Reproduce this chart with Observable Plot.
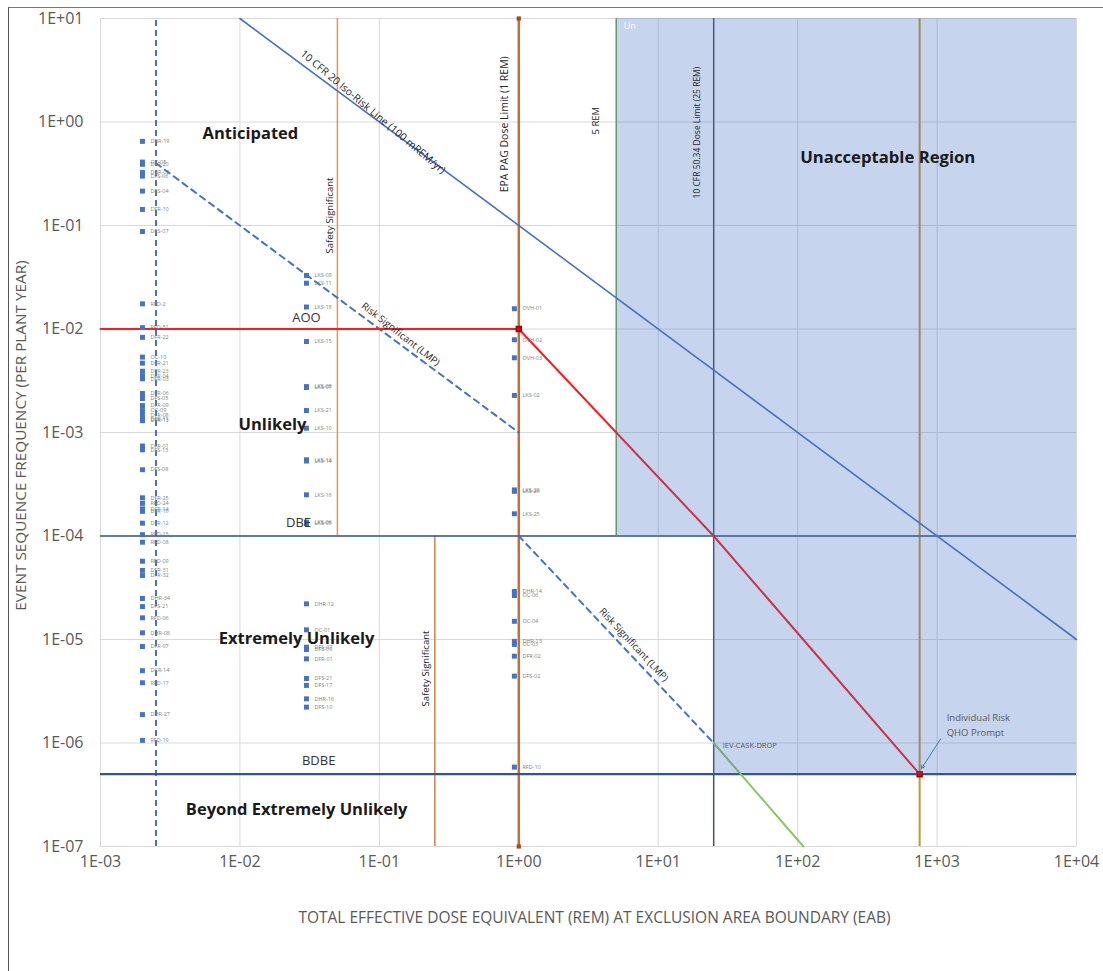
<!DOCTYPE html>
<html><head><meta charset="utf-8">
<script src="https://cdn.jsdelivr.net/npm/d3@7"></script>
<script src="https://cdn.jsdelivr.net/npm/@observablehq/plot@0.6"></script>
<style>
body{margin:0;background:#fff;}
#chart{position:absolute;left:0;top:0;}
#frame{position:absolute;left:8px;top:7px;width:1095px;height:964px;border-left:1.5px solid #555;border-top:1.5px solid #777;pointer-events:none;}
</style></head><body>
<div id="chart"></div><div id="frame"></div>
<script>
// ---- axes ----
const xTicks = [1e-3, 1e-2, 1e-1, 1, 10, 100, 1e3, 1e4];
const yTicks = [1e-7, 1e-6, 1e-5, 1e-4, 1e-3, 1e-2, 1e-1, 1, 10];
const xTitle = "TOTAL EFFECTIVE DOSE EQUIVALENT (REM) AT EXCLUSION AREA BOUNDARY (EAB)";
const yTitle = "EVENT SEQUENCE FREQUENCY (PER PLANT YEAR)";

// ---- event sequences, column at 0.002 rem ----
const lowDose = 0.002;
const lowLabels = ["DBR-19","OC-05","DFR-20","DBR-02","DFS-06","DES-04","DFR-10","DES-07","RFD-2","RFD-51","DFR-22","OC-10","DFR-21","DFR-23","DFR-04","DFR-03","DFR-06","DFS-05","DFR-09","OC-09","DFR-08","DFR-11","DFR-13","DFR-01","DFS-15","DFS-08","DFR-25","RFD-24","DFR-14","DFR-16","DFR-12","RFD-15","RFD-08","RFD-09","DFR-31","DFR-32","DHR-34","DFS-21","RFD-06","DHR-08","DFR-07","DCR-14","RFD-17","DHR-27","RFD-19"];
const lowFreq = [0.65,0.41,0.39,0.325,0.30,0.215,0.143,0.0875,0.0175,0.0103,0.0083,0.00535,0.00468,0.00391,0.00353,0.0033,0.00238,0.00213,0.00182,0.00163,0.00148,0.00135,0.0013,0.00074,0.00068,0.000437,0.000234,0.000207,0.000183,0.000173,0.000133,0.000103,0.0000871,0.0000571,0.0000465,0.0000415,0.0000249,0.0000208,0.0000162,0.0000116,0.00000855,0.000005,0.00000382,0.00000188,0.00000106];

// ---- column at 0.03 rem ----
const midDose = 0.03;
const midLabels = ["LKS-09","LKS-11","LKS-18","LKS-15","LKS-08","LKS-07","LKS-21","LKS-10","LKS-13","LKS-14","LKS-16","LKS-06","LKS-05","DHR-12","OC-01","DFS-07","DFS-09","DFR-01","DFS-21","DFS-17","DHR-16","DFS-10"];
const midFreq = [0.0329,0.0277,0.0163,0.00757,0.00278,0.00272,0.00163,0.0011,0.000545,0.00053,0.00025,0.000136,0.000132,0.0000221,0.0000124,0.00000843,0.000008,0.0000065,0.0000042,0.0000036,0.00000267,0.00000222];

// ---- column at 0.93 rem ----
const highDose = 0.93;
const highLabels = ["OVH-01","OVH-02","OVH-03","LKS-02","LKS-20","LKS-26","LKS-25","DHR-14","OC-06","OC-04","DHR-13","OC-03","DFR-02","DFS-02","RFD-10"];
const highFreq = [0.0157,0.00787,0.00527,0.00228,0.000279,0.00027,0.000164,0.0000291,0.0000266,0.000015,0.0000096,0.00000896,0.0000069,0.00000443,0.000000585];

// ---- reference lines ----
const isoRiskDose = [0.01, 1e4], isoRiskFreq = [10, 1e-5];
const lmpUpperDose = [0.0025, 1], lmpUpperFreq = [0.4, 1e-3];
const lmpLowerDose = [1, 25], lmpLowerFreq = [1e-4, 1e-6];
const caskDose = [25, 110], caskFreq = [1e-6, 1e-7];
const limitCurveDose = [1e-3, 1, 25, 750], limitCurveFreq = [1e-2, 1e-2, 1e-4, 5e-7];
const limitMarkerDose = [1, 750], limitMarkerFreq = [1e-2, 5e-7];
const freqBounds = [1e-4, 5e-7];
const doseLimits = [0.0025, 0.05, 0.25, 1, 5, 25, 750];
const doseTop = [10, 10, 1e-4, 10, 10, 10, 10];
const doseBottom = [1e-7, 1e-4, 1e-7, 1e-7, 1e-4, 1e-7, 1e-7];
const regionDose = [5, 25, 1e4], regionLower = [1e-4, 5e-7, 5e-7];

// ---- annotation texts ----
const regionNames = ["Anticipated","Unlikely","Extremely Unlikely","Beyond Extremely Unlikely"];
const regionNameDose = [0.0119, 0.0171, 0.0255, 0.0255];
const regionNameFreq = [0.774, 0.00119, 1.02e-5, 2.28e-7];
const classNames = ["AOO","DBE","BDBE"];
const classDose = [0.030, 0.0263, 0.0367];
const classFreq = [0.0129, 1.35e-4, 6.78e-7];

const fmt = d => { const e = Math.round(Math.log10(d)); return "1E" + (e < 0 ? "-" : "+") + String(Math.abs(e)).padStart(2, "0"); };
const zip = (xs, ys, ls) => xs.map((x, i) => ({x, y: ys[i], label: ls ? ls[i] : null}));
const col = (dose, freqs, labels) => freqs.map((f, i) => ({x: dose, y: f, label: labels[i]}));
const events = [...col(lowDose, lowFreq, lowLabels), ...col(midDose, midFreq, midLabels), ...col(highDose, highFreq, highLabels)];

const F = "Open Sans, Liberation Sans, sans-serif";
const vrule = (i, opts) => Plot.ruleX([doseLimits[i]], {y1: doseBottom[i], y2: doseTop[i], ...opts});

const chart = Plot.plot({
  width: 1103, height: 971,
  marginLeft: 100, marginRight: 27, marginTop: 18, marginBottom: 125,
  style: {fontFamily: F, background: "white", overflow: "visible"},
  x: {type: "log", domain: [1e-3, 1e4], axis: null},
  y: {type: "log", domain: [1e-7, 10], axis: null},
  marks: [
    Plot.gridX(xTicks, {stroke: "#d9d9d9", strokeOpacity: 1}),
    Plot.gridY(yTicks, {stroke: "#d9d9d9", strokeOpacity: 1}),
    Plot.axisX(xTicks, {tickFormat: fmt, tickSize: 0, tickPadding: 9, fontSize: 16, color: "#595959", label: null}),
    Plot.axisY(yTicks, {tickFormat: fmt, tickSize: 0, tickPadding: 17, fontSize: 16, color: "#595959", label: null}),
    Plot.text([xTitle], {text: d => d, frameAnchor: "bottom", dy: 72, dx: 6, lineAnchor: "middle", textAnchor: "middle", fontSize: 15.5, fill: "#595959"}),
    Plot.text([yTitle], {text: d => d, frameAnchor: "left", dx: -79, dy: 3, rotate: -90, lineAnchor: "middle", textAnchor: "middle", fontSize: 15.3, fill: "#595959"}),

    // vertical dose limits
    vrule(0, {stroke: "#4472c4", strokeWidth: 2, strokeDasharray: "6,4"}),
    vrule(1, {stroke: "#f0914c", strokeWidth: 1.5}),
    vrule(2, {stroke: "#d7813f", strokeWidth: 1.5}),
    vrule(3, {stroke: "#c0703a", strokeWidth: 2.5}),
    vrule(4, {stroke: "#70ad47", strokeWidth: 1.5}),
    vrule(5, {stroke: "#44546a", strokeWidth: 1.5}),
    vrule(6, {stroke: "#c09a2c", strokeWidth: 2}),
    Plot.dot([doseLimits[3], doseLimits[3]], {x: d => d, y: (d, i) => i ? doseTop[3] : doseBottom[3], symbol: "square", r: 2.4, fill: "#a84a1e"}),

    // horizontal frequency bounds
    Plot.ruleY([freqBounds[0]], {stroke: "#2f5597", strokeWidth: 1.5}),
    Plot.ruleY([freqBounds[1]], {stroke: "#2f5597", strokeWidth: 2.2}),

    // sloped lines
    Plot.line(zip(isoRiskDose, isoRiskFreq), {x: "x", y: "y", stroke: "#4472c4", strokeWidth: 1.6}),
    Plot.line(zip(lmpUpperDose, lmpUpperFreq), {x: "x", y: "y", stroke: "#4472c4", strokeWidth: 2, strokeDasharray: "6,5"}),
    Plot.line(zip(lmpLowerDose, lmpLowerFreq), {x: "x", y: "y", stroke: "#4472c4", strokeWidth: 2, strokeDasharray: "6,5"}),
    Plot.line(zip(caskDose, caskFreq), {x: "x", y: "y", stroke: "#8cc65c", strokeWidth: 2}),
    Plot.line(zip(limitCurveDose, limitCurveFreq), {x: "x", y: "y", stroke: "#ff1a1a", strokeWidth: 2}),
    Plot.dot(zip(limitMarkerDose, limitMarkerFreq), {x: "x", y: "y", symbol: "square", r: 2.8, fill: "#d01010", stroke: "#a00000"}),

    // unacceptable region
    Plot.areaY(zip(regionDose, regionLower), {x: "x", y1: "y", y2: 10, curve: "step-after", fill: "#4472c4", fillOpacity: 0.3}),

    // event points
    Plot.dot(events, {x: "x", y: "y", symbol: "square", r: 2.8, fill: "#4472c4"}),
    Plot.text(events, {x: "x", y: "y", text: "label", dx: 8, textAnchor: "start", fontSize: 5.5, fill: "#7f7f7f"}),

    // region & class labels
    Plot.text(zip(regionNameDose, regionNameFreq, regionNames), {x: "x", y: "y", text: "label", fontSize: 16.5, fontWeight: "bold", fill: "#1a1a1a"}),
    Plot.text(zip(classDose, classFreq, classNames), {x: "x", y: "y", text: "label", fontSize: 13, fill: "#333"}),
    Plot.text(["Unacceptable Region"], {x: 443, y: 0.454, text: d => d, fontSize: 16.7, fontWeight: "bold", fill: "#1a1a1a"}),
    Plot.text(["Un"], {x: 5.65, y: 8.4, text: d => d, textAnchor: "start", fontSize: 9, fill: "white"}),

    // line annotations
    Plot.text(["10 CFR 20 Iso-Risk Line (100 mREM/yr)"], {x: 0.09, y: 1.25, text: d => d, rotate: 40, fontSize: 10.5, fill: "#262626"}),
    Plot.text(["Risk Significant (LMP)"], {x: 0.142, y: 0.0089, text: d => d, rotate: 38, fontSize: 9.8, fill: "#262626"}),
    Plot.text(["Risk Significant (LMP)"], {x: 6.67, y: 8.9e-6, text: d => d, rotate: 47, fontSize: 9.8, fill: "#262626"}),
    Plot.text(["Safety Significant"], {x: 0.044, y: 0.125, text: d => d, rotate: -90, fontSize: 9.6, fill: "#262626"}),
    Plot.text(["Safety Significant"], {x: 0.214, y: 5.25e-6, text: d => d, rotate: -90, fontSize: 9.6, fill: "#262626"}),
    Plot.text(["EPA PAG Dose Limit (1 REM)"], {x: 0.79, y: 0.95, text: d => d, rotate: -90, fontSize: 10.5, fill: "#262626"}),
    Plot.text(["5 REM"], {x: 3.6, y: 1.03, text: d => d, rotate: -90, fontSize: 9.5, fill: "#262626"}),
    Plot.text(["10 CFR 50.34 Dose Limit (25 REM)"], {x: 19.2, y: 0.79, text: d => d, rotate: -90, fontSize: 8.5, fill: "#262626"}),
    Plot.text(["IEV-CASK-DROP"], {x: 29, y: 9.5e-7, text: d => d, textAnchor: "start", fontSize: 7.5, fill: "#595959"}),
    Plot.text(["Individual Risk\nQHO Prompt"], {x: 1172, y: 1.53e-6, text: d => d, textAnchor: "start", lineHeight: 1.5, fontSize: 9.5, fill: "#595959"}),
    Plot.arrow([0], {x1: 1062, y1: 1.1e-6, x2: 776, y2: 5.7e-7, stroke: "#4472c4", strokeWidth: 1, headLength: 5})
  ]
});
document.getElementById("chart").appendChild(chart);
</script></body></html>
